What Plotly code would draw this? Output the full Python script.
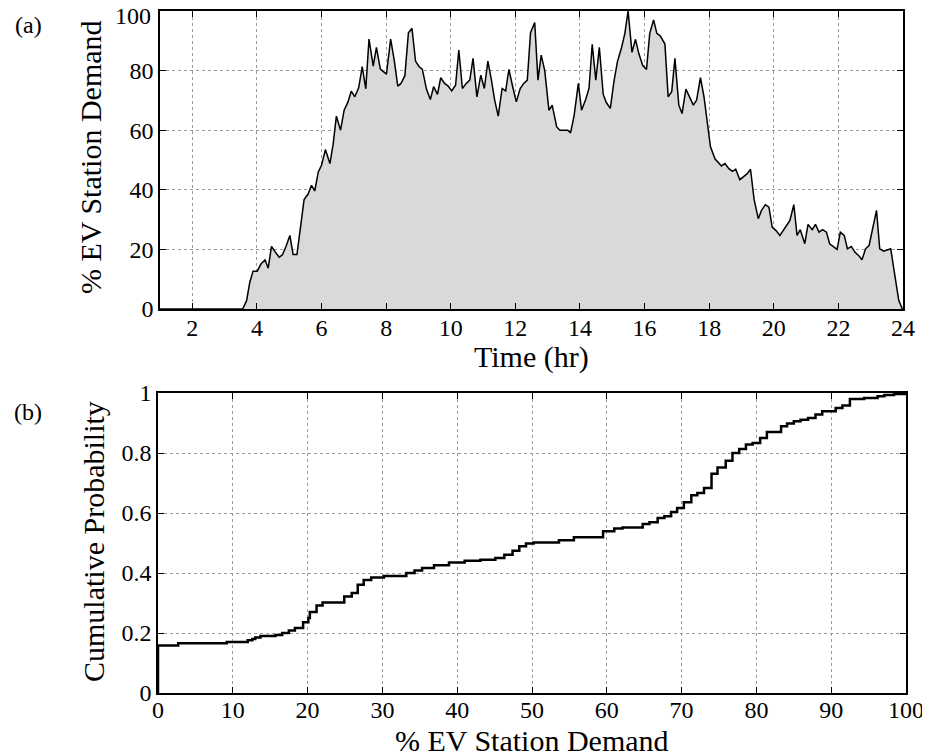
import plotly.graph_objects as go

# Panel (a): EV station demand over the day (hours, %)
hours = [1, 3.56, 3.68, 3.78, 3.88, 4.01, 4.12, 4.25, 4.35, 4.45, 4.59, 4.69, 4.79, 4.9,
         5.02, 5.12, 5.24, 5.35, 5.46, 5.58, 5.69, 5.79, 5.9, 6.0, 6.12, 6.26, 6.36,
         6.46, 6.59, 6.7, 6.82, 6.92, 7.03, 7.15, 7.26, 7.37, 7.47, 7.6, 7.7, 7.82,
         8.01, 8.14, 8.25, 8.36, 8.46, 8.58, 8.69, 8.8, 8.91, 9.02, 9.12, 9.25, 9.37,
         9.47, 9.59, 9.69, 9.81, 9.92, 10.03, 10.15, 10.25, 10.36, 10.48, 10.59, 10.69,
         10.81, 10.93, 11.04, 11.15, 11.26, 11.36, 11.47, 11.59, 11.7, 11.8, 11.93,
         12.03, 12.15, 12.26, 12.37, 12.47, 12.6, 12.7, 12.8, 12.91, 13.04, 13.14,
         13.28, 13.38, 13.48, 13.62, 13.71, 13.82, 13.95, 14.05, 14.18, 14.28, 14.38,
         14.49, 14.6, 14.72, 14.82, 14.94, 15.05, 15.16, 15.28, 15.39, 15.49, 15.61,
         15.72, 15.82, 15.94, 16.06, 16.16, 16.28, 16.38, 16.49, 16.63, 16.73, 16.84,
         16.94, 17.06, 17.16, 17.28, 17.38, 17.51, 17.61, 17.73, 17.84, 17.94, 18.04,
         18.18, 18.28, 18.38, 18.49, 18.61, 18.72, 18.82, 18.95, 19.05, 19.18, 19.28,
         19.39, 19.52, 19.62, 19.74, 19.85, 19.95, 20.07, 20.19, 20.29, 20.39, 20.5,
         20.62, 20.72, 20.82, 20.96, 21.06, 21.19, 21.29, 21.4, 21.51, 21.63, 21.73,
         21.86, 21.96, 22.06, 22.18, 22.28, 22.4, 22.51, 22.63, 22.73, 22.84, 22.95,
         23.05, 23.18, 23.28, 23.4, 23.51, 23.62, 23.74, 23.87, 23.98]
demand = [0, 0, 2.8, 9, 12.7, 12.7, 15, 16.5, 13.7, 21, 18.8, 17.4, 18.2, 21,
          24.7, 18.3, 18.3, 27.5, 36.7, 38.5, 41.5, 39.6, 46, 48.2, 53.5, 48.8, 55.3,
          64.7, 60, 66.7, 69.5, 73.1, 71.2, 74.2, 81.3, 73.9, 90.6, 81.5, 87.8, 80.5,
          78.8, 90.6, 83.5, 74.8, 75.7, 78.3, 92.7, 94.2, 83.2, 81.3, 80.5, 73.7, 70.3,
          74.6, 72, 77.6, 75.7, 74.8, 73.2, 75.1, 86.9, 74, 75.7, 76.8, 84.1,
          71.2, 78.5, 74, 83.2, 76.8, 70.1, 64.7, 74, 73.2, 80.4, 74,
          69.5, 74, 75.7, 76.8, 92.7, 96.1, 76.8, 85.2, 80, 66.7, 68.4,
          61.1, 60, 60, 60, 59.1, 65, 75.7, 66.7, 70.4, 74, 88.8,
          76.8, 87.8, 72, 69.2, 67.3, 76.2, 83, 87.4, 92.5, 100, 86.1,
          90.5, 85.8, 81.8, 80.4, 92.5, 97, 92.5, 91.6, 88.9, 71.2, 72.9,
          84.1, 68.4, 65.6, 73.8, 71.2, 68.4, 70.1, 77.6, 71.2, 62.2, 54.4,
          50.4, 49.3, 48, 48.8, 47.1, 46.2, 46.9, 43.4, 44.3, 45.4, 46.9,
          36.8, 30.3, 33.1, 35, 34.2, 27.5, 26.3, 24.7, 26.3, 27.5, 29.7,
          35, 24.7, 26.6, 21.9, 28.4, 26.6, 28.4, 25.8, 26.6, 25.8, 21.9,
          20.7, 20, 25.8, 24.7, 20.2, 21, 19.1, 17.9, 16.5, 20.2, 21.3,
          26.3, 33.1, 20.2, 19.4, 19.8, 20.2, 11.8, 2.8, 0]

# Panel (b): cumulative distribution of demand (step points)
cdf_demand = [0, 0, 2.7, 9.2, 12, 12.6, 13, 13.7, 15.7, 16.6, 17.5, 18.3, 19.4, 20.1,
              20.3, 21.2, 22, 24.9, 25.9, 26.7, 27.5, 28.5, 30.2, 33.2, 34.3, 35.3,
              36.9, 38.9, 41, 43.1, 45.1, 46.3, 47.4, 48.3, 49.2, 50.2, 53.6, 55.6,
              59.5, 61, 62.1, 64.8, 65.7, 66.8, 67.7, 68.6, 69.4, 70.3, 71.3, 72.1,
              73, 74, 74.8, 75.9, 76.8, 77.7, 78.6, 79.5, 80.5, 81.4, 83.3, 84.1, 85,
              85.9, 86.9, 87.9, 88.8, 90.6, 91.5, 92.5, 94.4, 96.2, 97.1, 98.4, 100]
cdf_prob = [0, 0.158, 0.166, 0.17, 0.176, 0.18, 0.185, 0.19, 0.193, 0.2, 0.208, 0.217,
            0.236, 0.25, 0.27, 0.292, 0.302, 0.322, 0.333, 0.361, 0.377, 0.385, 0.39,
            0.4, 0.408, 0.417, 0.426, 0.435, 0.441, 0.444, 0.45, 0.461, 0.474, 0.489,
            0.498, 0.502, 0.509, 0.519, 0.539, 0.548, 0.552, 0.563, 0.569, 0.583,
            0.589, 0.603, 0.617, 0.636, 0.659, 0.667, 0.683, 0.731, 0.752, 0.774, 0.8,
            0.813, 0.828, 0.833, 0.85, 0.87, 0.889, 0.898, 0.906, 0.911, 0.917, 0.928,
            0.939, 0.95, 0.958, 0.98, 0.983, 0.989, 0.993, 0.997, 1.0]

hour_ticks = [2, 4, 6, 8, 10, 12, 14, 16, 18, 20, 22, 24]
demand_ticks = [0, 20, 40, 60, 80, 100]
demand_labels = ["0", "20", "40", "60", "80", ""]  # "100" drawn below, nudged in-bounds
pct_ticks = [0, 10, 20, 30, 40, 50, 60, 70, 80, 90, 100]
prob_ticks = [0, 0.2, 0.4, 0.6, 0.8, 1]
prob_labels = ["0", "0.2", "0.4", "0.6", "0.8", "1"]

FONT = "Liberation Serif"

# page body adds an 8px margin, so the figure is 8px smaller on each axis
W, H = 922, 748


def px(x):
    return (x - 8) / W


def py(y):
    return 1 - (y - 8) / H


fig = go.Figure()

fig.add_trace(go.Scatter(
    x=hours, y=demand, mode="lines", fill="tozeroy",
    fillcolor="#d9d9d9", line=dict(color="black", width=1.5),
    xaxis="x", yaxis="y", showlegend=False,
))

fig.add_trace(go.Scatter(
    x=cdf_demand, y=cdf_prob, mode="lines", line_shape="hv",
    line=dict(color="black", width=2.5),
    xaxis="x2", yaxis="y2", showlegend=False, cliponaxis=False,
))

axis_style = dict(
    showline=True, linecolor="black", linewidth=1.5, mirror="ticks",
    ticks="inside", ticklen=6, tickcolor="black", tickwidth=1,
    showgrid=True, gridcolor="#9a9a9a", griddash="dot", gridwidth=1,
    zeroline=False, automargin=False, ticklabeloverflow="allow",
    tickfont=dict(family=FONT, size=24, color="black"),
)

fig.update_layout(
    width=W, height=H,
    margin=dict(l=0, r=0, t=0, b=0),
    paper_bgcolor="white", plot_bgcolor="white",
    xaxis=dict(axis_style, domain=[px(160), px(903)], anchor="y", range=[1, 24],
               tickvals=hour_ticks, ticklabelstandoff=-4),
    yaxis=dict(axis_style, domain=[py(309), py(11)], anchor="x", range=[0, 100],
               tickvals=demand_ticks, ticktext=demand_labels),
    xaxis2=dict(axis_style, domain=[px(158), px(906)], anchor="y2", range=[0, 100],
                tickvals=pct_ticks, ticklabelstandoff=-6),
    yaxis2=dict(axis_style, domain=[py(693), py(393)], anchor="x2", range=[0, 1],
                tickvals=prob_ticks, ticktext=prob_labels),
)

title_font = dict(family=FONT, size=30, color="black")
label_font = dict(family=FONT, size=24, color="black")
centred = dict(xref="paper", yref="paper", showarrow=False,
               xanchor="center", yanchor="middle")
fig.add_annotation(text="% EV Station Demand", x=px(90), y=py(157), textangle=-90,
                   font=title_font, **centred)
fig.add_annotation(text="Time (hr)", x=px(531), y=py(357), font=title_font, **centred)
fig.add_annotation(text="Cumulative Probability", x=px(93), y=py(542), textangle=-90,
                   font=title_font, **centred)
fig.add_annotation(text="% EV Station Demand", x=px(532), y=py(740),
                   font=title_font, **centred)
fig.add_annotation(text="(a)", x=px(28), y=py(25), font=label_font, **centred)
fig.add_annotation(text="(b)", x=px(28), y=py(412), font=label_font, **centred)
fig.add_annotation(text="100", x=px(153), y=py(16), xref="paper", yref="paper",
                   showarrow=False, xanchor="right", yanchor="middle", font=label_font)

fig.write_html("out.html")
